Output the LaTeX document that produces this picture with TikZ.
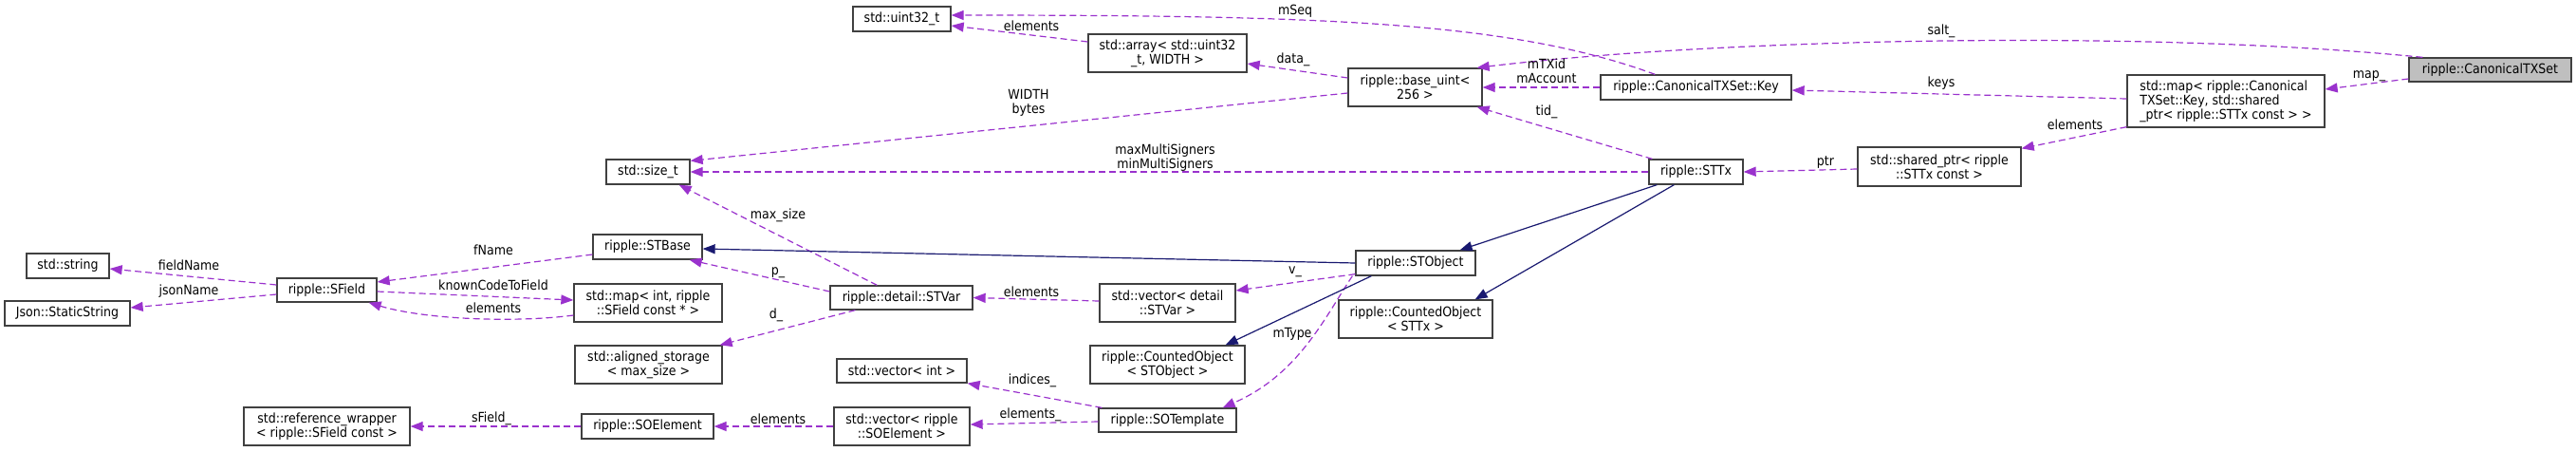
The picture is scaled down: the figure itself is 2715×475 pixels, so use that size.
\documentclass[tikz,border=0pt]{standalone}
\usepackage{fontspec}
\setmainfont{DejaVu Sans Condensed}
\usepackage{xcolor}
\usetikzlibrary{arrows.meta,calc}
\definecolor{memberedge}{HTML}{9A32CD}
\definecolor{inheritedge}{HTML}{191970}
\definecolor{boxline}{HTML}{404040}
\definecolor{rootfill}{HTML}{BFBFBF}

\begin{document}
\begin{tikzpicture}[x=1pt,y=-1pt,
    font=\fontsize{14}{15}\selectfont,
    cls/.style={draw=boxline, line width=1.3pt, fill=white, inner sep=2pt, align=center},
    member/.style={draw=memberedge, line width=1.2pt, dash pattern=on 7pt off 4pt,
      -{Triangle[length=13pt,width=10pt]}},
    inherit/.style={draw=inheritedge, line width=1.2pt, -{Triangle[length=13pt,width=10pt]}},
    lbl/.style={inner sep=0pt, align=center}]
  \useasboundingbox (0,0) rectangle (2715,475);

  % classes
  \node[cls, fill=rootfill, minimum width=171pt, minimum height=25pt] (txset) at (2624.5,73.5) {ripple::CanonicalTXSet};
  \node[cls, align=left, minimum width=208pt, minimum height=55pt] (keymap) at (2346,106.5)
    {std::map< ripple::Canonical\\TXSet::Key, std::shared\\\_ptr< ripple::STTx const > >};
  \node[cls, minimum width=201pt, minimum height=26pt] (txkey) at (1787.5,92) {ripple::CanonicalTXSet::Key};
  \node[cls, minimum width=141pt, minimum height=40pt] (baseuint) at (1491.5,92) {ripple::base\_uint<\\256 >};
  \node[cls, minimum width=167pt, minimum height=40pt] (uintarray) at (1230.5,56) {std::array< std::uint32\\\_t, WIDTH >};
  \node[cls, minimum width=103pt, minimum height=26pt] (uint32) at (950.5,20) {std::uint32\_t};
  \node[cls, minimum width=88pt, minimum height=26pt] (sizet) at (683,181) {std::size\_t};
  \node[cls, minimum width=99pt, minimum height=26pt] (sttx) at (1787.5,181) {ripple::STTx};
  \node[cls, minimum width=172pt, minimum height=41pt] (txptr) at (2044,175.5) {std::shared\_ptr< ripple\\::STTx const >};
  \node[cls, minimum width=126pt, minimum height=26pt] (stobject) at (1492,277) {ripple::STObject};
  \node[cls, minimum width=162pt, minimum height=40pt] (countsttx) at (1492,336) {ripple::CountedObject\\< STTx >};
  \node[cls, minimum width=115pt, minimum height=26pt] (stbase) at (682.5,260) {ripple::STBase};
  \node[cls, minimum width=105pt, minimum height=25pt] (sfield) at (344.5,305.5) {ripple::SField};
  \node[cls, minimum width=87pt, minimum height=26pt] (stdstring) at (71.5,280) {std::string};
  \node[cls, minimum width=132pt, minimum height=26pt] (jsonstr) at (71,330) {Json::StaticString};
  \node[cls, minimum width=156pt, minimum height=40pt] (codemap) at (683,319) {std::map< int, ripple\\::SField const * >};
  \node[cls, minimum width=150pt, minimum height=25pt] (stvar) at (950,313.5) {ripple::detail::STVar};
  \node[cls, minimum width=143pt, minimum height=40pt] (varvec) at (1230.5,319) {std::vector< detail\\::STVar >};
  \node[cls, minimum width=155pt, minimum height=40pt] (storage) at (683.5,384) {std::aligned\_storage\\< max\_size >};
  \node[cls, minimum width=137pt, minimum height=25pt] (intvec) at (950.5,390.5) {std::vector< int >};
  \node[cls, minimum width=163pt, minimum height=40pt] (countstobj) at (1230.5,384) {ripple::CountedObject\\< STObject >};
  \node[cls, minimum width=139pt, minimum height=26pt] (soelement) at (682.5,449) {ripple::SOElement};
  \node[cls, minimum width=143pt, minimum height=40pt] (elemvec) at (950.5,449) {std::vector< ripple\\::SOElement >};
  \node[cls, minimum width=145pt, minimum height=25pt] (sotemplate) at (1230.5,442.5) {ripple::SOTemplate};
  \node[cls, minimum width=175pt, minimum height=40pt] (refwrap) at (344.5,449) {std::reference\_wrapper\\< ripple::SField const >};

  % members
  \draw[member] ([yshift=-9.5pt]txset.west) -- ([yshift=12.5pt]keymap.east);
  \draw[member] ([xshift=15pt]txset.north west) .. controls +(-300,-30) and +(250,-30) .. ([xshift=-6pt]baseuint.north east);
  \draw[member] ([yshift=2.5pt]keymap.west) -- ([yshift=-3pt]txkey.east);
  \draw[member] ([yshift=1pt]keymap.south west) -- ([yshift=-2pt]txptr.north east);
  \draw[member] ([yshift=-2.5pt]txptr.west) -- (sttx.east);
  \draw[member] (txkey.west) -- (baseuint.east);
  \draw[member] ([xshift=58pt]txkey.north west) .. controls +(-150,-55) and +(400,0) .. ([yshift=4pt]uint32.east);
  \draw[member] ([yshift=10pt]baseuint.west) -- ([yshift=-11pt]uintarray.east);
  \draw[member] ([yshift=12pt]uintarray.west) -- ([yshift=-7pt]uint32.east);
  \draw[member] ([yshift=-6pt]baseuint.west) -- ([yshift=-2pt]sizet.north east);
  \draw[member] ([xshift=4pt]sttx.north west) -- ([xshift=-6pt]baseuint.south east);
  \draw[member] (sttx.west) -- (sizet.east);
  \draw[member] ([yshift=2pt]stobject.south west) -- ([yshift=13pt]varvec.east);
  \draw[member] ([xshift=-3pt]stobject.south west) .. controls +(-30,45) and +(80,-35) .. ([xshift=-15pt]sotemplate.north east);
  \draw[member] ([yshift=2pt]varvec.west) -- (stvar.east);
  \draw[member] ([yshift=6.5pt]stvar.west) -- ([xshift=-14pt]stbase.south east);
  \draw[member] ([xshift=50pt]stvar.north west) -- ([xshift=-12pt]sizet.south east);
  \draw[member] ([xshift=27pt]stvar.south west) -- ([xshift=-3pt]storage.north east);
  \draw[member] ([yshift=-8pt]stbase.west) -- ([yshift=8.5pt]sfield.east);
  \draw[member] ([yshift=5.5pt]sfield.west) -- ([yshift=-3pt]stdstring.east);
  \draw[member] ([yshift=-4.5pt]sfield.west) -- ([yshift=6pt]jsonstr.east);
  \draw[member] ([yshift=-1.5pt]sfield.east) -- ([yshift=3pt]codemap.west);
  \draw[member] ([yshift=-13pt]codemap.west) .. controls +(-60,8) and +(60,18) .. ([xshift=-9pt]sfield.south east);
  \draw[member] ([xshift=4pt]sotemplate.north west) -- (intvec.south east);
  \draw[member] ([yshift=-1.5pt]sotemplate.west) -- ([yshift=2pt]elemvec.east);
  \draw[member] (elemvec.west) -- (soelement.east);
  \draw[member] (soelement.west) -- (refwrap.east);

  % bases
  \draw[inherit] ([xshift=9pt]sttx.south west) -- ([xshift=-17pt]stobject.north east);
  \draw[inherit] ([xshift=27pt]sttx.south west) -- ([xshift=-19pt]countsttx.north east);
  \draw[inherit] (stobject.west) -- ([yshift=-2pt]stbase.east);
  \draw[inherit] ([xshift=17pt]stobject.south west) -- ([xshift=-21pt]countstobj.north east);

  % edge labels
  \node[lbl] (lmap) at (2497,80) {map\_};
  \node[lbl] (lsalt) at (2046,33) {salt\_};
  \node[lbl] (lkeys) at (2046,88) {keys};
  \node[lbl] (lkmelem) at (2187,131) {elements};
  \node[lbl] (lptr) at (1924,171) {ptr};
  \node[lbl] (lkey) at (1630,75) {mTXid\\mAccount};
  \node[lbl] (lseq) at (1365,12) {mSeq};
  \node[lbl] (ldata) at (1363,63) {data\_};
  \node[lbl] (larelem) at (1087,27) {elements};
  \node[lbl] (lwidth) at (1084,108) {WIDTH\\bytes};
  \node[lbl] (ltid) at (1630,118) {tid\_};
  \node[lbl] (lsigners) at (1228,166) {maxMultiSigners\\minMultiSigners};
  \node[lbl] (lv) at (1365,286) {v\_};
  \node[lbl] (ltype) at (1362,352) {mType};
  \node[lbl] (lvarelem) at (1087,307) {elements};
  \node[lbl] (lp) at (820,287) {p\_};
  \node[lbl] (lmaxsize) at (820,227) {max\_size};
  \node[lbl] (ld) at (818,332) {d\_};
  \node[lbl] (lfname) at (520,263) {fName};
  \node[lbl] (lfieldname) at (199,279) {fieldName};
  \node[lbl] (ljsonname) at (199,307) {jsonName};
  \node[lbl] (lcode) at (520,300) {knownCodeToField};
  \node[lbl] (lcodeelem) at (520,324) {elements};
  \node[lbl] (lindices) at (1088,401) {indices\_};
  \node[lbl] (ltplelem) at (1086,437) {elements\_};
  \node[lbl] (lsoelem) at (820,441) {elements};
  \node[lbl] (lsfield) at (518,441) {sField\_};
\end{tikzpicture}
\end{document}
